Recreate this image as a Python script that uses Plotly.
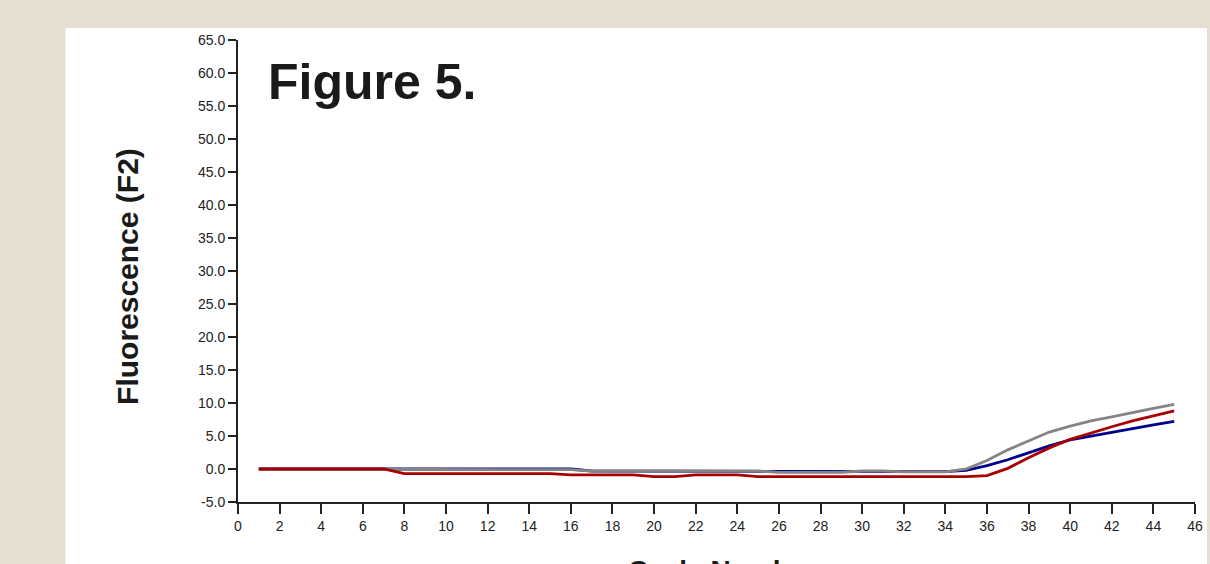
import plotly.graph_objects as go

cycles = list(range(1, 46))

gray_vals = [0.0, 0.0, 0.0, 0.0, 0.0, 0.0, 0.0, 0.0, -0.1, -0.1,
             -0.1, -0.1, -0.1, -0.1, -0.1, -0.1, -0.3, -0.3, -0.3, -0.3,
             -0.3, -0.3, -0.3, -0.3, -0.3, -0.5, -0.5, -0.5, -0.5, -0.3,
             -0.3, -0.45, -0.45, -0.45, 0.0, 1.3, 2.9, 4.3, 5.6, 6.5,
             7.3, 7.9, 8.6, 9.2, 9.8]

blue_vals = [0.0, 0.0, 0.0, 0.0, 0.0, 0.0, 0.0, 0.0, 0.0, 0.0,
             0.0, -0.1, 0.0, 0.0, 0.0, 0.0, -0.3, -0.3, -0.3, -0.3,
             -0.3, -0.3, -0.3, -0.3, -0.3, -0.3, -0.3, -0.3, -0.3, -0.4,
             -0.4, -0.4, -0.4, -0.4, -0.2, 0.5, 1.4, 2.5, 3.5, 4.4,
             5.0, 5.5, 6.1, 6.7, 7.2]

red_vals = [0.0, 0.0, 0.0, 0.0, 0.0, 0.0, 0.0, -0.7, -0.7, -0.7,
            -0.7, -0.7, -0.7, -0.7, -0.7, -0.9, -0.9, -0.9, -0.9, -1.15,
            -1.15, -0.9, -0.9, -0.9, -1.15, -1.15, -1.15, -1.15, -1.15, -1.15,
            -1.15, -1.15, -1.15, -1.15, -1.15, -1.0, 0.1, 1.7, 3.2, 4.5,
            5.5, 6.4, 7.3, 8.1, 8.8]

y_ticks = [-5, 0, 5, 10, 15, 20, 25, 30, 35, 40, 45, 50, 55, 60, 65]
x_ticks = list(range(0, 47, 2))

FONT = "Liberation Sans, Arial, sans-serif"

fig = go.Figure()
fig.add_trace(go.Scatter(x=cycles, y=blue_vals, mode="lines",
                         line=dict(color="#00008c", width=2.8), name="blue"))
fig.add_trace(go.Scatter(x=cycles, y=gray_vals, mode="lines",
                         line=dict(color="#848484", width=2.8), name="gray"))
fig.add_trace(go.Scatter(x=cycles, y=red_vals, mode="lines",
                         line=dict(color="#a80000", width=2.8), name="red"))

W, H = 1210, 564
L, R, T, B = 238, 7, 40, 62
pw, ph = W - L - R, H - T - B

def px_x(p):
    return (p - L) / pw

def px_y(p):
    return (H - B - p) / ph

fig.add_shape(type="rect", xref="paper", yref="paper",
              x0=px_x(64), x1=px_x(1215), y0=px_y(570), y1=px_y(28),
              fillcolor="white", line=dict(width=0), layer="below")

fig.add_annotation(text="<b>Figure 5.</b>", xref="paper", yref="paper",
                   x=px_x(266), y=px_y(82), xanchor="left", yanchor="middle",
                   showarrow=False, font=dict(family=FONT, size=50, color="#1a1a1a"))
fig.add_annotation(text="<b>Fluorescence (F2)</b>", xref="paper", yref="paper",
                   x=px_x(126), y=px_y(276), xanchor="center", yanchor="middle",
                   textangle=-90, showarrow=False,
                   font=dict(family=FONT, size=30, color="#1a1a1a"))
fig.add_annotation(text="<b>Cycle Number</b>", xref="paper", yref="paper",
                   x=px_x(726), y=px_y(570), xanchor="center", yanchor="middle",
                   showarrow=False, font=dict(family=FONT, size=28, color="#1a1a1a"))

fig.update_layout(
    width=W, height=H, autosize=False,
    margin=dict(l=L, r=R, t=T, b=B),
    paper_bgcolor="#e6dfd0",
    plot_bgcolor="white",
    showlegend=False,
    font=dict(family=FONT, color="#222222"),
)
fig.update_xaxes(range=[0, 46], tickvals=x_ticks, ticktext=[str(v) for v in x_ticks],
                 showgrid=False, zeroline=False, showline=True, linecolor="#222",
                 linewidth=2, ticks="outside", ticklen=10, tickwidth=1.5,
                 tickcolor="#222", ticklabeloverflow="allow",
                 tickfont=dict(size=14, family=FONT, color="#222"))
fig.update_yaxes(range=[-5, 65], tickvals=y_ticks, ticktext=[f"{v:.1f}" for v in y_ticks],
                 showgrid=False, zeroline=False, showline=True, linecolor="#222",
                 linewidth=2, ticks="outside", ticklen=8, tickwidth=1.5,
                 tickcolor="#222", tickfont=dict(size=14, family=FONT, color="#222"))

fig.write_html("out.html", config={"displayModeBar": False, "responsive": False},
               post_script="document.body.style.margin='0';document.body.style.overflow='hidden';")
